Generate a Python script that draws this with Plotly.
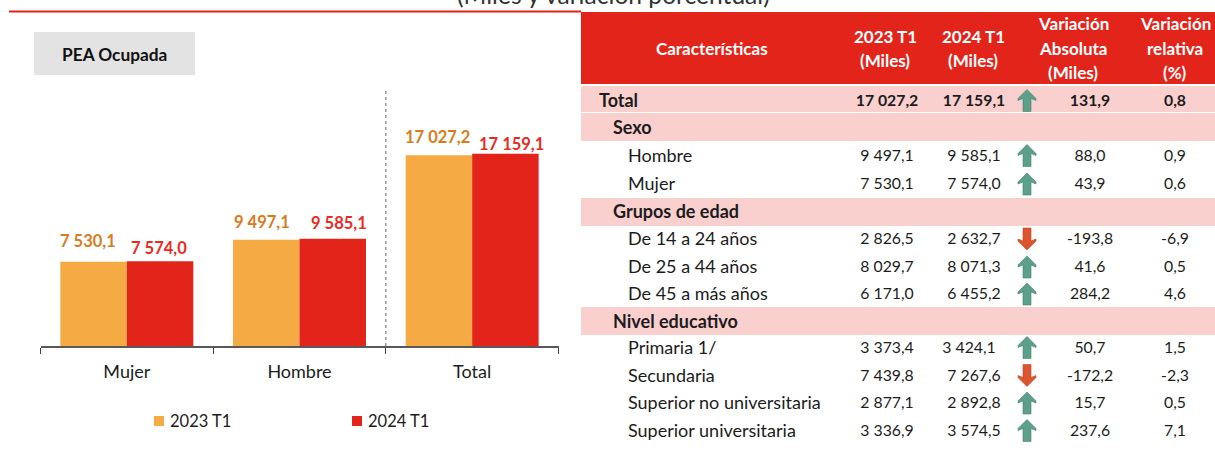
import plotly.graph_objects as go

W, H = 1215, 461
# ---- chart data
categories = ["Mujer", "Hombre", "Total"]
series_2023 = [7530.1, 9497.1, 17027.2]
series_2024 = [7574.0, 9585.1, 17159.1]
series_names = ["2023 T1", "2024 T1"]

# ---- table data
row_labels = ["Total", "Sexo", "Hombre", "Mujer", "Grupos de edad", "De 14 a 24 años",
              "De 25 a 44 años", "De 45 a más años", "Nivel educativo", "Primaria 1/",
              "Secundaria", "Superior no universitaria", "Superior universitaria"]
row_level = [0, 1, 2, 2, 1, 2, 2, 2, 1, 2, 2, 2, 2]
col_2023 = ["17 027,2", "", "9 497,1", "7 530,1", "", "2 826,5", "8 029,7", "6 171,0", "", "3 373,4", "7 439,8", "2 877,1", "3 336,9"]
col_2024 = ["17 159,1", "", "9 585,1", "7 574,0", "", "2 632,7", "8 071,3", "6 455,2", "", "3 424,1", "7 267,6", "2 892,8", "3 574,5"]
col_abs = ["131,9", "", "88,0", "43,9", "", "-193,8", "41,6", "284,2", "", "50,7", "-172,2", "15,7", "237,6"]
col_rel = ["0,8", "", "0,9", "0,6", "", "-6,9", "0,5", "4,6", "", "1,5", "-2,3", "0,5", "7,1"]
headers = [["Características"], ["2023 T1", "(Miles)"], ["2024 T1", "(Miles)"],
           ["Variación", "Absoluta", "(Miles)"], ["Variación", "relativa", "(%)"]]
subtitle = "(Miles y variación porcentual)"
box_title = "PEA Ocupada"

# ---- style
FONT = "Lato"
RED, ORANGE, PINK, GRAY = "#E3241B", "#F6AA43", "#FAD0CF", "#E3E3E3"
RED_TXT, ORANGE_TXT, INK = "#E62B22", "#D97B1C", "#1C1C1C"
GREEN, GREEN_D, DOWN, DOWN_D = "#5C9F8A", "#3F8570", "#DB5530", "#C9431F"
FS_NUM, FS_LAB, FS_HEAD, FS_BAR = 15.8, 18, 17, 16.5
ROW_PX = [100.5, 128, 155.5, 184, 212, 239, 267, 294, 322, 347.5, 375.5, 403, 430.5]
BAND_PX = {0: (86, 112), 1: (113, 141), 4: (198, 226), 8: (307, 335)}
TEXT_DY = 1.5
X_LEFT = {0: 599, 1: 613, 2: 628}
X_HEAD = [712, 885, 973, 1073, 1175]
X_COLS = [887, 974, 1090, 1175]
X_ARROW = 1027
LABEL_DX_A, LABEL_DY_A = [-39, -38, -35], [21, 18, 18]
LABEL_DX_B, LABEL_DY_B = [32, 39, 39], [13, 16, 10]
PRIMARIA_ROW, PRIMARIA_DX = 9, -5
LEGEND_X, LEGEND_Y, LEGEND_GAP = [159, 357], 421, 11


def px(x):
    return x / W


def py(y):
    return 1 - y / H


def fmt(v):
    s = f"{v:,.1f}"
    return s.replace(",", " ").replace(".", ",")


fig = go.Figure()

# ---- bars
for name, vals, col in zip(series_names, [series_2023, series_2024], [ORANGE, RED]):
    fig.add_bar(x=categories, y=vals, name=name, marker=dict(color=col, line_width=0), showlegend=False,
                xaxis="x", yaxis="y", hoverinfo="skip")

annots = []
for k, (cat, a, b) in enumerate(zip(categories, series_2023, series_2024)):
    annots.append(dict(x=cat, y=a, xref="x", yref="y", text=f"<b>{fmt(a)}</b>", showarrow=False,
                       xshift=LABEL_DX_A[k], yshift=LABEL_DY_A[k], yanchor="middle",
                       font=dict(family=FONT, size=FS_BAR, color=ORANGE_TXT)))
    annots.append(dict(x=cat, y=b, xref="x", yref="y", text=f"<b>{fmt(b)}</b>", showarrow=False,
                       xshift=LABEL_DX_B[k], yshift=LABEL_DY_B[k], yanchor="middle",
                       font=dict(family=FONT, size=FS_BAR, color=RED_TXT)))

# ---- table text as marks on a row/pixel axis pair
rows = list(range(len(row_labels)))
for level in (0, 1, 2):
    idx = [i for i in rows if row_level[i] == level]
    fig.add_scatter(x=[X_LEFT[level]] * len(idx), y=[ROW_PX[i] + TEXT_DY for i in idx], mode="text",
                    textposition="middle right",
                    text=[(f"<b>{row_labels[i]}</b>" if level < 2 else row_labels[i]) for i in idx],
                    textfont=dict(family=FONT, size=FS_LAB, color=INK), showlegend=False,
                    xaxis="x2", yaxis="y2", hoverinfo="skip", cliponaxis=False)
for c, (xc, col) in enumerate(zip(X_COLS, [col_2023, col_2024, col_abs, col_rel])):
    xs = [xc + (PRIMARIA_DX if (c == 1 and i == PRIMARIA_ROW) else 0) for i in rows]
    fig.add_scatter(x=xs, y=[ROW_PX[i] + TEXT_DY for i in rows], mode="text", textposition="middle center",
                    text=[(f"<b>{t}</b>" if i == 0 else t) for i, t in enumerate(col)],
                    textfont=dict(family=FONT, size=FS_NUM, color=INK), showlegend=False,
                    xaxis="x2", yaxis="y2", hoverinfo="skip", cliponaxis=False)

# ---- arrows, direction taken from the sign of the absolute change
ARROW = [(0, -11), (9, -2), (9, 0), (4, -2), (4, 11), (-4, 11), (-4, -2), (-9, 0), (-9, -2), (0, -11)]
for sign, fill, edge in ((1, GREEN, GREEN_D), (-1, DOWN, DOWN_D)):
    xs, ys = [], []
    for i, t in enumerate(col_abs):
        if not t:
            continue
        if t.startswith("-") == (sign == -1):
            for dx, dy in ARROW:
                xs.append(X_ARROW + dx)
                ys.append(ROW_PX[i] + sign * dy)
            xs.append(None)
            ys.append(None)
    fig.add_scatter(x=xs, y=ys, mode="lines", fill="toself", fillcolor=fill,
                    line=dict(color=edge, width=0.6), showlegend=False,
                    xaxis="x2", yaxis="y2", hoverinfo="skip")

# ---- legend, drawn as marks so the swatch/text gap matches
for x0, name, col in zip(LEGEND_X, series_names, [ORANGE, RED]):
    fig.add_scatter(x=[x0], y=[LEGEND_Y], mode="markers", showlegend=False,
                    marker=dict(symbol="square", size=10, color=col, line_width=0),
                    xaxis="x2", yaxis="y2", hoverinfo="skip")
    fig.add_scatter(x=[x0 + LEGEND_GAP], y=[LEGEND_Y + TEXT_DY], mode="text", text=[name], showlegend=False,
                    textposition="middle right", textfont=dict(family=FONT, size=16.5, color=INK),
                    xaxis="x2", yaxis="y2", hoverinfo="skip", cliponaxis=False)

# ---- header text
HEAD_LINE = 24.5
for xc, lines in zip(X_HEAD, headers):
    for n, line in enumerate(lines):
        yc = 48.5 + (n - (len(lines) - 1) / 2) * HEAD_LINE
        annots.append(dict(x=px(xc), y=py(yc), xref="paper", yref="paper", text=f"<b>{line}</b>",
                           showarrow=False, xanchor="center", yanchor="middle",
                           font=dict(family=FONT, size=FS_HEAD, color="white")))
annots.append(dict(x=px(114.5), y=py(54), xref="paper", yref="paper", text=f"<b>{box_title}</b>",
                   showarrow=False, xanchor="center", yanchor="middle",
                   font=dict(family=FONT, size=17.3, color="#111111")))
annots.append(dict(x=px(613), y=py(-6), xref="paper", yref="paper", text=subtitle, showarrow=False,
                   xanchor="center", yanchor="middle",
                   font=dict(family=FONT, size=24.6, color="#333333")))

# ---- rectangles and rules
shapes = [
    dict(type="rect", xref="paper", yref="paper", x0=px(34), x1=px(195), y0=py(32), y1=py(75),
         fillcolor=GRAY, line_width=0, layer="below"),
    dict(type="rect", xref="paper", yref="paper", x0=px(581), x1=1, y0=py(12), y1=py(84),
         fillcolor=RED, line_width=0, layer="below"),
    dict(type="line", xref="paper", yref="paper", x0=px(9), x1=px(581), y0=py(11.5), y1=py(11.5),
         line=dict(color=RED, width=2)),
    dict(type="line", xref="x", yref="y", x0=1.5, x1=1.5, y0=0, y1=22950,
         line=dict(color="#7F7F7F", width=1.2, dash="3px,3px")),
]
for i, (y0, y1) in BAND_PX.items():
    shapes.append(dict(type="rect", xref="x2", yref="y2", x0=581, x1=1215, y0=y0, y1=y1,
                       fillcolor=PINK, line_width=0, layer="below"))

fig.update_layout(
    width=W, height=H, margin=dict(l=0, r=0, t=0, b=0), autosize=False,
    paper_bgcolor="white", plot_bgcolor="rgba(0,0,0,0)", barmode="group", bargap=0.23, bargroupgap=0,
    annotations=annots, shapes=shapes, showlegend=False,
    font=dict(family=FONT, size=FS_LAB, color=INK),
    xaxis=dict(domain=[px(40.5), px(558.5)], anchor="y", type="category", categoryorder="array",
               categoryarray=categories, tickson="boundaries", ticks="outside", ticklen=6, tickwidth=1,
               tickcolor="#404040", showline=True, linecolor="#595959", linewidth=1.5, showgrid=False,
               tickfont=dict(family=FONT, size=FS_LAB, color=INK), ticklabelstandoff=9),
    yaxis=dict(domain=[py(346), py(89)], anchor="x", range=[0, 22950], visible=False, showgrid=False),
    xaxis2=dict(domain=[0, 1], range=[0, W], visible=False, anchor="y2", showgrid=False),
    yaxis2=dict(domain=[0, 1], range=[H, 0], visible=False, anchor="x2", showgrid=False),
)
fig.write_html("out.html", config={"displayModeBar": False},
               post_script="document.body.style.margin='0';window.dispatchEvent(new Event('resize'));")
